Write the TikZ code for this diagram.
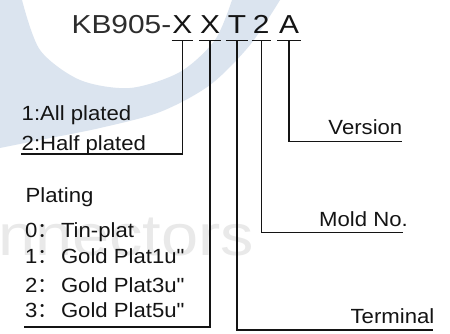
\documentclass[tikz,border=0pt]{standalone}
\usepackage{fontspec}
\setmainfont{Liberation Sans}
\newfontfamily\titlefont[FakeStretch=1.15]{Liberation Sans}
\newfontfamily\labelfont[FakeStretch=1.08]{Liberation Sans}
\newfontfamily\cjkfont{Noto Sans CJK SC}
\definecolor{wmblue}{RGB}{219,228,239}
\definecolor{wmgray}{RGB}{233,233,233}
\definecolor{ink}{RGB}{20,20,20}
\definecolor{titlegray}{RGB}{45,45,45}
\tikzset{
  lbl/.style={inner sep=0pt, font=\labelfont\fontsize{20.5}{24}\selectfont, text=ink},
  ttl/.style={inner sep=0pt, font=\titlefont\fontsize{26}{30}\selectfont, text=ink},
  chr/.style={ttl, anchor=south, minimum width=21pt, text height=19pt, text depth=7.4pt},
  ln/.style={line width=1.1pt, draw=ink},
  wmtext/.style={inner sep=0pt, font=\titlefont\fontsize{58}{60}\selectfont, text=wmgray}
}
\begin{document}
\begin{tikzpicture}[x=1pt,y=-1pt]
\useasboundingbox (0,0) rectangle (450,334);
\fill[white] (0,0) rectangle (450,334);
% watermark
\fill[wmblue] (0,0) -- plot[smooth] coordinates {(0,148) (40,140) (100,128) (160,112) (210,85) (250,45) (280,0)}
  -- (232,0) -- plot[smooth] coordinates {(232,0) (215,40) (180,72) (130,88) (80,80) (40,50) (22,0)} -- cycle;
\node[wmtext, anchor=base west] (wm) at (-2,255) {nnectors};
% title
\node[ttl, anchor=base east, text=titlegray] (pre) at (171.5,33.3) {KB905-};
\node[chr] (x1) at (182.3,40.7) {X};
\node[chr] (x2) at (210,40.7) {X};
\node[chr, minimum width=22pt] (t) at (237,40.7) {T};
\node[chr, minimum width=19pt] (n2) at (261.2,40.7) {2};
\node[chr, minimum width=23pt] (a) at (289,40.7) {A};
\foreach \c in {x1,x2,t,n2,a} {\draw[ln] (\c.south west) -- (\c.south east);}
% corner coordinates
\coordinate (e1) at (21,154);
\coordinate (e2) at (24,327);
\coordinate (e3) at (433.3,330);
\coordinate (e4) at (402.7,232.3);
\coordinate (e5) at (401.7,141.7);
\draw[ln] (x1.south) |- (e1);
\draw[ln] (x2.south) |- (e2);
\draw[ln] (t.south) |- (e3);
\draw[ln] (n2.south) |- (e4);
\draw[ln] (a.south) |- (e5);
% left labels
\node[lbl, anchor=base west] (all) at (21.5,120.7) {1:All plated};
\node[lbl, anchor=base west] (half) at (21.5,150) {2:Half plated};
\node[lbl, anchor=base west] (plating) at (25.5,202) {Plating};
\node[lbl, anchor=base west] (p0) at (25,237) {0{\cjkfont ：}\hspace{3pt}Tin-plat};
\node[lbl, anchor=base west] (p1) at (25,263) {1{\cjkfont ：}\hspace{3pt}Gold Plat1u"};
\node[lbl, anchor=base west] (p2) at (25,292) {2{\cjkfont ：}\hspace{3pt}Gold Plat3u"};
\node[lbl, anchor=base west] (p3) at (25,317) {3{\cjkfont ：}\hspace{3pt}Gold Plat5u"};
% right labels
\node[lbl, anchor=base east] (ver) at (402.5,135) {Version};
\node[lbl, anchor=base east] (mold) at (408,226) {Mold No.};
\node[lbl, anchor=base east] (term) at (434.5,323.3) {Terminal};
\end{tikzpicture}
\end{document}
